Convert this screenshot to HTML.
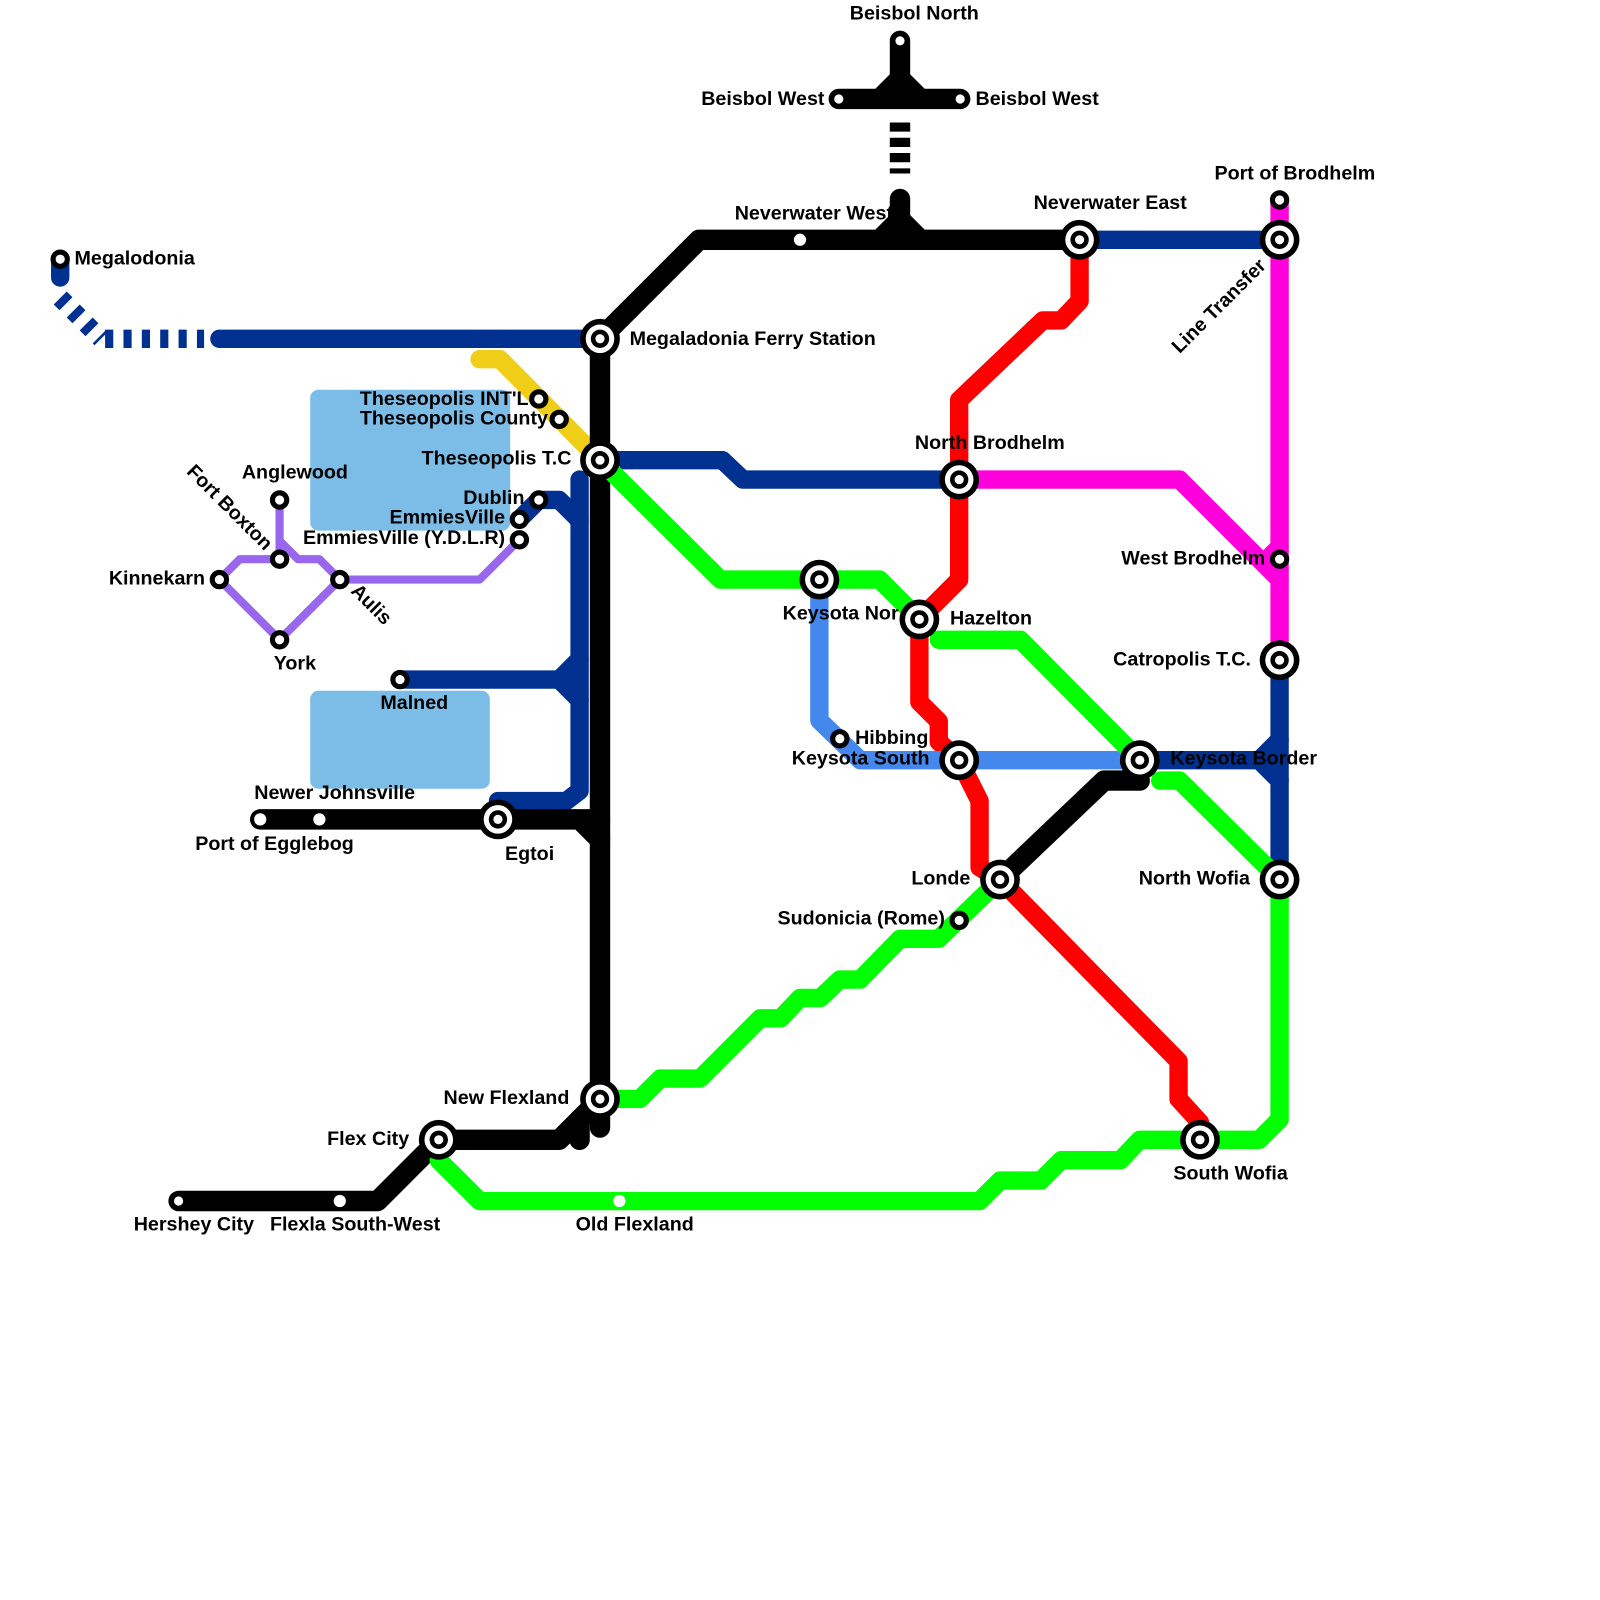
<!DOCTYPE html>
<html><head><meta charset="utf-8"><style>html,body{margin:0;padding:0;background:#fff}svg{display:block}text{font-family:"Liberation Sans",Arial,sans-serif;font-weight:bold;font-size:19.3px;fill:#000}</style></head>
<body>
<svg width="1600" height="1600" viewBox="0 0 1600 1600" xmlns="http://www.w3.org/2000/svg">
<g transform="scale(1.0204)">
<rect x="304" y="382" width="196" height="138" rx="8" fill="#7bbde6"/>
<rect x="304" y="677" width="176" height="96" rx="8" fill="#7bbde6"/>
<g fill="none" stroke-linejoin="round" stroke-linecap="round">
<path d="M470,352 H490 L588,451" stroke="#f0cd16" stroke-width="18"/>
<g stroke="#9966ee" stroke-width="8">
<path d="M274,490 V548"/><path d="M274,530 L292,548 H313 L333,568 H470 L509,529"/>
<path d="M215,568 L235,548 H274"/><path d="M215,568 L274,627 L333,568"/>
</g>
<g stroke="#003090" stroke-width="18">
<path d="M59,254 V272"/>
<path d="M215,332 H588"/>
<path d="M588,451 H708 L728,470 H940"/>
<path d="M568,470 V775 L555,785 H488"/>
<path d="M528,490 H548 L568,510"/>
<path d="M392,666 H548 L568,646 M548,666 L568,686"/>
<path d="M509,509 L528,490"/>
<path d="M1058,235 H1254"/>
<path d="M1254,647 V862"/>
<path d="M1117,745 H1254 M1234,745 L1254,725 M1234,745 L1254,765"/>
</g>
<g stroke="#003090" stroke-width="18" stroke-linecap="butt" stroke-dasharray="8 10">
<path d="M59,292 L99,332"/>
<path d="M103,332 H200"/>
</g>
<g stroke="#000" stroke-width="20">
<path d="M588,332 L685,235 H1058"/>
<path d="M588,332 V1105"/>
<path d="M588,1077 L548,1117 H430 L370,1177 H175"/>
<path d="M568,1117 V1097"/>
<path d="M255,803 H588 M568,803 L588,823"/>
<path d="M882,235 V195"/>
<path d="M862,235 L882,215 L902,235"/>
<path d="M882,40 V97 M822,97 H941 M862,97 L882,77 L902,97"/>
<path d="M980,862 L1082,765 H1117"/>
</g>
<path d="M882,120 V170" stroke="#000" stroke-width="20" stroke-linecap="butt" stroke-dasharray="9 6"/>
<path d="M1058,235 V295 L1040,314 H1022 L940,392 V568 L920,588 L901,607 V688 L920,707 V727 L940,745 L960,785 V850 L980,862 L1155,1040 V1077 L1176,1100" stroke="#ff0000" stroke-width="18"/>
<g stroke="#ff00dd" stroke-width="18">
<path d="M1254,196 V647"/>
<path d="M940,470 H1156 L1254,568 M1238,552 L1254,536"/>
</g>
<path d="M803,568 V706 L843,745 H1117" stroke="#4488ee" stroke-width="18"/>
<g stroke="#00ff00" stroke-width="18">
<path d="M588,451 L706,568 H862 L901,607"/>
<path d="M920,627 H1000 L1117,745"/>
<path d="M1137,765 H1156 L1254,862 V1097 L1234,1117 H1117 L1098,1137 H1040 L1020,1157 H980 L960,1177 H470 L430,1137"/>
<path d="M588,1077 H627 L647,1057 H686 L745,998 H765 L784,978 H804 L823,960 H843 L882,920 H920 L980,862"/>
</g>
</g>
<g fill="#fff" stroke="#000" stroke-width="5">
<circle cx="59" cy="254" r="7"/><circle cx="528" cy="391" r="7"/><circle cx="548" cy="411" r="7"/>
<circle cx="274" cy="490" r="7"/><circle cx="274" cy="548" r="7"/><circle cx="215" cy="568" r="7"/>
<circle cx="333" cy="568" r="7"/><circle cx="274" cy="627" r="7"/><circle cx="528" cy="490" r="7"/>
<circle cx="509" cy="509" r="7"/><circle cx="509" cy="529" r="7"/><circle cx="392" cy="666" r="7"/>
<circle cx="882" cy="40" r="7"/><circle cx="822" cy="97" r="7"/><circle cx="941" cy="97" r="7"/>
<circle cx="1254" cy="196" r="7"/><circle cx="1254" cy="548" r="7"/><circle cx="823" cy="724" r="7"/>
<circle cx="940" cy="902" r="7"/><circle cx="175" cy="1177" r="7"/>
</g>
<g fill="#fff">
<circle cx="784" cy="235" r="6"/><circle cx="313" cy="803" r="6"/><circle cx="255" cy="803" r="6"/>
<circle cx="333" cy="1177" r="6"/><circle cx="607" cy="1177" r="6"/>
</g>
<g>
<g transform="translate(588,332)"><circle r="19.5"/><circle r="14" fill="#fff"/><circle r="9"/><circle r="4.5" fill="#fff"/></g>
<g transform="translate(588,451)"><circle r="19.5"/><circle r="14" fill="#fff"/><circle r="9"/><circle r="4.5" fill="#fff"/></g>
<g transform="translate(488,803)"><circle r="19.5"/><circle r="14" fill="#fff"/><circle r="9"/><circle r="4.5" fill="#fff"/></g>
<g transform="translate(588,1077)"><circle r="19.5"/><circle r="14" fill="#fff"/><circle r="9"/><circle r="4.5" fill="#fff"/></g>
<g transform="translate(430,1117)"><circle r="19.5"/><circle r="14" fill="#fff"/><circle r="9"/><circle r="4.5" fill="#fff"/></g>
<g transform="translate(1058,235)"><circle r="19.5"/><circle r="14" fill="#fff"/><circle r="9"/><circle r="4.5" fill="#fff"/></g>
<g transform="translate(1254,235)"><circle r="19.5"/><circle r="14" fill="#fff"/><circle r="9"/><circle r="4.5" fill="#fff"/></g>
<g transform="translate(940,470)"><circle r="19.5"/><circle r="14" fill="#fff"/><circle r="9"/><circle r="4.5" fill="#fff"/></g>
<g transform="translate(803,568)"><circle r="19.5"/><circle r="14" fill="#fff"/><circle r="9"/><circle r="4.5" fill="#fff"/></g>
<g transform="translate(901,607)"><circle r="19.5"/><circle r="14" fill="#fff"/><circle r="9"/><circle r="4.5" fill="#fff"/></g>
<g transform="translate(940,745)"><circle r="19.5"/><circle r="14" fill="#fff"/><circle r="9"/><circle r="4.5" fill="#fff"/></g>
<g transform="translate(1117,745)"><circle r="19.5"/><circle r="14" fill="#fff"/><circle r="9"/><circle r="4.5" fill="#fff"/></g>
<g transform="translate(980,862)"><circle r="19.5"/><circle r="14" fill="#fff"/><circle r="9"/><circle r="4.5" fill="#fff"/></g>
<g transform="translate(1254,647)"><circle r="19.5"/><circle r="14" fill="#fff"/><circle r="9"/><circle r="4.5" fill="#fff"/></g>
<g transform="translate(1254,862)"><circle r="19.5"/><circle r="14" fill="#fff"/><circle r="9"/><circle r="4.5" fill="#fff"/></g>
<g transform="translate(1176,1117)"><circle r="19.5"/><circle r="14" fill="#fff"/><circle r="9"/><circle r="4.5" fill="#fff"/></g>
</g>
<text x="73" y="259">Megalodonia</text>
<text x="617" y="338">Megaladonia Ferry Station</text>
<text x="518" y="397" text-anchor="end">Theseopolis INT'L</text>
<text x="537" y="416" text-anchor="end">Theseopolis County</text>
<text x="560" y="455" text-anchor="end">Theseopolis T.C</text>
<text x="289" y="469" text-anchor="middle">Anglewood</text>
<text x="514" y="494" text-anchor="end">Dublin</text>
<text x="495" y="513" text-anchor="end">EmmiesVille</text>
<text x="495" y="533" text-anchor="end">EmmiesVille (Y.D.L.R)</text>
<text x="201" y="573" text-anchor="end">Kinnekarn</text>
<text x="289" y="656" text-anchor="middle">York</text>
<text transform="translate(182,463) rotate(45)">Fort Boxton</text>
<text transform="translate(343,580) rotate(45)">Aulis</text>
<text x="406" y="695" text-anchor="middle">Malned</text>
<text x="328" y="783" text-anchor="middle">Newer Johnsville</text>
<text x="269" y="833" text-anchor="middle">Port of Egglebog</text>
<text x="519" y="843" text-anchor="middle">Egtoi</text>
<text x="558" y="1082" text-anchor="end">New Flexland</text>
<text x="401" y="1122" text-anchor="end">Flex City</text>
<text x="190" y="1206" text-anchor="middle">Hershey City</text>
<text x="348" y="1206" text-anchor="middle">Flexla South-West</text>
<text x="622" y="1206" text-anchor="middle">Old Flexland</text>
<text x="896" y="19" text-anchor="middle">Beisbol North</text>
<text x="808" y="103" text-anchor="end">Beisbol West</text>
<text x="956" y="103">Beisbol West</text>
<text x="720" y="215">Neverwater West</text>
<text x="1088" y="205" text-anchor="middle">Neverwater East</text>
<text x="1269" y="176" text-anchor="middle">Port of Brodhelm</text>
<text transform="translate(1156,347) rotate(-45)">Line Transfer</text>
<text x="970" y="440" text-anchor="middle">North Brodhelm</text>
<text x="1240" y="553" text-anchor="end">West Brodhelm</text>
<text x="767" y="607">Keysota Nor</text>
<text x="931" y="612">Hazelton</text>
<text x="1226" y="652" text-anchor="end">Catropolis T.C.</text>
<text x="838" y="729">Hibbing</text>
<text x="911" y="749" text-anchor="end">Keysota South</text>
<text x="1147" y="749">Keysota Border</text>
<text x="951" y="867" text-anchor="end">Londe</text>
<text x="1225" y="867" text-anchor="end">North Wofia</text>
<text x="926" y="906" text-anchor="end">Sudonicia (Rome)</text>
<text x="1206" y="1156" text-anchor="middle">South Wofia</text>
</g>
</svg>
</body></html>
